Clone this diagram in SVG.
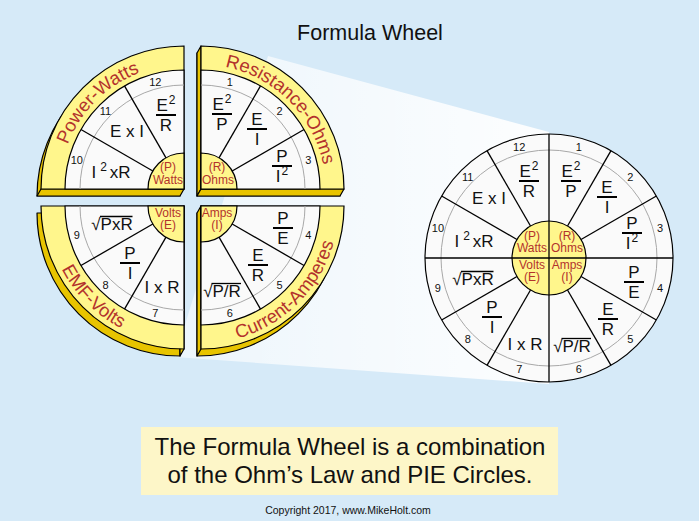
<svg xmlns="http://www.w3.org/2000/svg" width="699" height="521" viewBox="0 0 699 521">
<defs>
<linearGradient id="beamGrad" x1="0" y1="0" x2="1" y2="0">
<stop offset="0" stop-color="#ffffff" stop-opacity="0.55"/>
<stop offset="1" stop-color="#ffffff" stop-opacity="0.95"/>
</linearGradient>
<path id="pTL" d="M59.5,189 A124.5,124.5 0 0,1 184,64.5"/>
<path id="pTR" d="M201,64.5 A124.5,124.5 0 0,1 325.5,189"/>
<path id="pBL" d="M46.5,206 A137.5,137.5 0 0,0 184,343.5"/>
<path id="pBR" d="M201,343.5 A137.5,137.5 0 0,0 338.5,206"/>
</defs>
<style>
.ring{fill:#fff68c;stroke:#000;stroke-width:1.2}
.ext{fill:#e8c400;stroke:#000;stroke-width:1.2;stroke-linejoin:round}
.face{fill:#fafafa;stroke:#000;stroke-width:1.2}
.hub{fill:#fff68c;stroke:#000;stroke-width:1.2}
.gray{fill:none;stroke:#a8a8a8;stroke-width:1}
.div{stroke:#000;stroke-width:1.3}
.bar{stroke:#000;stroke-width:2}
.ov{stroke:#000;stroke-width:1.3}
text{font-family:"Liberation Sans",Arial,sans-serif}
.f{font-size:17px;fill:#111;text-anchor:middle}
.s{font-size:12px}
.n{font-size:11px;fill:#111;text-anchor:middle}
.h{font-size:12px;fill:#b3322c;text-anchor:middle}
.rl{font-size:18.5px;fill:#b3322c;text-anchor:middle}
</style>
<rect x="0" y="0" width="699" height="521" fill="#d6eaf8"/>
<text x="370" y="40" font-size="21.5" text-anchor="middle" fill="#111">Formula Wheel</text>

<g id="connectors">
<polygon points="268,56 549,132 549,384 175,357" fill="url(#beamGrad)"/>
</g>

<g id="q-power">
<path class="ext" d="M180,196 L37,196 A143,143 0 0,1 180,53 Z"/>
<path class="ext" d="M41,189 L184,189 L180,196 L37,196 Z"/>
<path class="ring" d="M184,189 L41,189 A143,143 0 0,1 184,46 Z"/>
<path class="face" d="M184,189 L65,189 A119,119 0 0,1 184,70 Z"/>
<path class="gray" d="M80,189 A104,104 0 0,1 184,85"/>
<line class="div" x1="166" y1="157.82" x2="124.5" y2="85.94"/>
<line class="div" x1="152.82" y1="171" x2="80.94" y2="129.5"/>
<path class="hub" d="M184,189 L148,189 A36,36 0 0,1 184,153 Z"/>
<text class="h" x="168" y="171">(P)</text>
<text class="h" x="168" y="184">Watts</text>
<text class="rl"><textPath href="#pTL" startOffset="50%">Power-Watts</textPath></text>
<text class="n" x="155.3" y="85.8">12</text>
<text class="n" x="105.5" y="114.5">11</text>
<text class="n" x="76.8" y="164.3">10</text>
<text class="f" x="166" y="111">E<tspan class="s" dx="1" dy="-7">2</tspan></text>
<line class="bar" x1="156" y1="115" x2="176" y2="115"/>
<text class="f" x="166" y="131">R</text>
<text class="f" x="127" y="137">E x I</text>
<text class="f" x="111" y="178">I<tspan class="s" dx="4" dy="-7">2</tspan><tspan dx="3" dy="7">xR</tspan></text>
</g>

<g id="q-resistance">
<path class="ext" d="M197,196 L197,53 A143,143 0 0,1 340,196 Z"/>
<path class="ext" d="M201,189 L201,46 L197,53 L197,196 Z"/>
<path class="ext" d="M201,189 L344,189 L340,196 L197,196 Z"/>
<path class="ring" d="M201,189 L201,46 A143,143 0 0,1 344,189 Z"/>
<path class="face" d="M201,189 L201,70 A119,119 0 0,1 320,189 Z"/>
<path class="gray" d="M201,85 A104,104 0 0,1 305,189"/>
<line class="div" x1="219" y1="157.82" x2="260.5" y2="85.94"/>
<line class="div" x1="232.18" y1="171" x2="304.06" y2="129.5"/>
<path class="hub" d="M201,189 L201,153 A36,36 0 0,1 237,189 Z"/>
<text class="h" x="217" y="171">(R)</text>
<text class="h" x="218" y="184">Ohms</text>
<text class="rl"><textPath href="#pTR" startOffset="50%">Resistance-Ohms</textPath></text>
<text class="n" x="229.7" y="85.8">1</text>
<text class="n" x="279.5" y="114.5">2</text>
<text class="n" x="308.2" y="164.3">3</text>
<text class="f" x="222" y="110">E<tspan class="s" dx="1" dy="-7">2</tspan></text>
<line class="bar" x1="212" y1="114" x2="232" y2="114"/>
<text class="f" x="222" y="130">P</text>
<text class="f" x="257" y="125">E</text>
<line class="bar" x1="247" y1="129" x2="267" y2="129"/>
<text class="f" x="257" y="145">I</text>
<text class="f" x="282" y="162">P</text>
<line class="bar" x1="272" y1="166" x2="292" y2="166"/>
<text class="f" x="282" y="182">I<tspan class="s" dx="1" dy="-7">2</tspan></text>
</g>

<g id="q-emf">
<path class="ext" d="M180,213 L37,213 A143,143 0 0,0 180,356 Z"/>
<path class="ext" d="M184,206 L184,349 L180,356 L180,213 Z"/>
<path class="ring" d="M184,206 L41,206 A143,143 0 0,0 184,349 Z"/>
<path class="face" d="M184,206 L65,206 A119,119 0 0,0 184,325 Z"/>
<path class="gray" d="M80,206 A104,104 0 0,0 184,310"/>
<line class="div" x1="166" y1="237.18" x2="124.5" y2="309.06"/>
<line class="div" x1="152.82" y1="224" x2="80.94" y2="265.5"/>
<path class="hub" d="M184,206 L148,206 A36,36 0 0,0 184,242 Z"/>
<text class="h" x="168" y="217">Volts</text>
<text class="h" x="168" y="229">(E)</text>
<text class="rl"><textPath href="#pBL" startOffset="50%">EMF-Volts</textPath></text>
<text class="n" x="76.8" y="238.7">9</text>
<text class="n" x="105.5" y="288.5">8</text>
<text class="n" x="155.3" y="317.2">7</text>
<text class="f" x="112" y="230">√PxR</text>
<line class="ov" x1="100" y1="216.5" x2="132.5" y2="216.5"/>
<text class="f" x="130" y="259">P</text>
<line class="bar" x1="120" y1="263" x2="140" y2="263"/>
<text class="f" x="130" y="279">I</text>
<text class="f" x="162" y="293">I x R</text>
</g>

<g id="q-current">
<path class="ext" d="M197,213 L340,213 A143,143 0 0,1 197,356 Z"/>
<path class="ext" d="M201,206 L201,349 L197,356 L197,213 Z"/>
<path class="ring" d="M201,206 L344,206 A143,143 0 0,1 201,349 Z"/>
<path class="face" d="M201,206 L320,206 A119,119 0 0,1 201,325 Z"/>
<path class="gray" d="M305,206 A104,104 0 0,1 201,310"/>
<line class="div" x1="232.18" y1="224" x2="304.06" y2="265.5"/>
<line class="div" x1="219" y1="237.18" x2="260.5" y2="309.06"/>
<path class="hub" d="M201,206 L237,206 A36,36 0 0,1 201,242 Z"/>
<text class="h" x="217" y="217">Amps</text>
<text class="h" x="217" y="229">(I)</text>
<text class="rl"><textPath href="#pBR" startOffset="50%">Current-Amperes</textPath></text>
<text class="n" x="308.2" y="238.7">4</text>
<text class="n" x="279.5" y="288.5">5</text>
<text class="n" x="229.7" y="317.2">6</text>
<text class="f" x="283" y="224">P</text>
<line class="bar" x1="273" y1="228" x2="293" y2="228"/>
<text class="f" x="283" y="244">E</text>
<text class="f" x="258" y="261">E</text>
<line class="bar" x1="248" y1="265" x2="268" y2="265"/>
<text class="f" x="258" y="281">R</text>
<text class="f" x="222" y="297">√P/R</text>
<line class="ov" x1="211.5" y1="283.5" x2="241" y2="283.5"/>
</g>

<g id="wheel">
<circle class="face" cx="549" cy="258" r="124"/>
<circle class="gray" cx="549" cy="258" r="108"/>
<line class="div" x1="567.5" y1="225.96" x2="611" y2="150.61"/>
<line class="div" x1="581.04" y1="239.5" x2="656.39" y2="196"/>
<line class="div" x1="581.04" y1="276.5" x2="656.39" y2="320"/>
<line class="div" x1="567.5" y1="290.04" x2="611" y2="365.39"/>
<line class="div" x1="530.5" y1="290.04" x2="487" y2="365.39"/>
<line class="div" x1="516.96" y1="276.5" x2="441.61" y2="320"/>
<line class="div" x1="516.96" y1="239.5" x2="441.61" y2="196"/>
<line class="div" x1="530.5" y1="225.96" x2="487" y2="150.61"/>
<circle class="hub" cx="549" cy="258" r="37"/>
<line class="div" x1="549" y1="134" x2="549" y2="382"/>
<line class="div" x1="425" y1="258" x2="673" y2="258"/>
<text class="h" x="532" y="240">(P)</text>
<text class="h" x="532" y="252">Watts</text>
<text class="h" x="567" y="240">(R)</text>
<text class="h" x="567" y="252">Ohms</text>
<text class="h" x="532" y="269">Volts</text>
<text class="h" x="532" y="281">(E)</text>
<text class="h" x="567" y="269">Amps</text>
<text class="h" x="567" y="281">(I)</text>
<text class="n" x="578.8" y="150.9">1</text>
<text class="n" x="630.3" y="180.7">2</text>
<text class="n" x="660.1" y="232.2">3</text>
<text class="n" x="660.1" y="291.8">4</text>
<text class="n" x="630.3" y="343.3">5</text>
<text class="n" x="578.8" y="373.1">6</text>
<text class="n" x="519.2" y="373.1">7</text>
<text class="n" x="467.7" y="343.3">8</text>
<text class="n" x="437.9" y="291.8">9</text>
<text class="n" x="437.9" y="232.2">10</text>
<text class="n" x="467.7" y="180.7">11</text>
<text class="n" x="519.2" y="150.9">12</text>
<text class="f" x="571" y="177">E<tspan class="s" dx="1" dy="-7">2</tspan></text>
<line class="bar" x1="561" y1="181" x2="581" y2="181"/>
<text class="f" x="571" y="197">P</text>
<text class="f" x="607" y="193">E</text>
<line class="bar" x1="597" y1="197" x2="617" y2="197"/>
<text class="f" x="607" y="213">I</text>
<text class="f" x="632" y="229">P</text>
<line class="bar" x1="622" y1="233" x2="642" y2="233"/>
<text class="f" x="632" y="249">I<tspan class="s" dx="1" dy="-7">2</tspan></text>
<text class="f" x="634" y="278">P</text>
<line class="bar" x1="624" y1="282" x2="644" y2="282"/>
<text class="f" x="634" y="298">E</text>
<text class="f" x="608" y="315">E</text>
<line class="bar" x1="598" y1="319" x2="618" y2="319"/>
<text class="f" x="608" y="335">R</text>
<text class="f" x="572" y="352">√P/R</text>
<line class="ov" x1="561.5" y1="338.5" x2="591" y2="338.5"/>
<text class="f" x="525" y="350">I x R</text>
<text class="f" x="492" y="313">P</text>
<line class="bar" x1="482" y1="317" x2="502" y2="317"/>
<text class="f" x="492" y="333">I</text>
<text class="f" x="473" y="285">√PxR</text>
<line class="ov" x1="461" y1="271.5" x2="493.5" y2="271.5"/>
<text class="f" x="474" y="247">I<tspan class="s" dx="4" dy="-7">2</tspan><tspan dx="3" dy="7">xR</tspan></text>
<text class="f" x="489" y="204">E x I</text>
<text class="f" x="529" y="177">E<tspan class="s" dx="1" dy="-7">2</tspan></text>
<line class="bar" x1="519" y1="181" x2="539" y2="181"/>
<text class="f" x="529" y="197">R</text>
</g>

<g id="caption">
<rect x="141" y="427" width="417" height="68" fill="#fdf6c8"/>
<text x="350" y="455" font-size="24" text-anchor="middle" fill="#111">The Formula Wheel is a combination</text>
<text x="350" y="483" font-size="24" text-anchor="middle" fill="#111">of the Ohm’s Law and PIE Circles.</text>
</g>
<text x="348" y="514" font-size="10.5" text-anchor="middle" fill="#111">Copyright 2017, www.MikeHolt.com</text>
</svg>
